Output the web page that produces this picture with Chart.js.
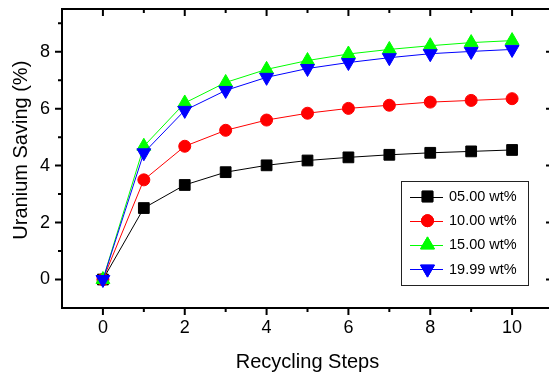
<!DOCTYPE html>
<html lang="en">
<head>
<meta charset="UTF-8">
<title>Uranium Saving</title>
<script src="https://cdn.jsdelivr.net/npm/chart.js"></script>
<style>
  body { margin: 0; background: #fff; overflow: hidden; }
  #wrap { width: 562px; height: 376px; }
</style>
</head>
<body>
<div id="wrap"><canvas id="myChart" width="562" height="376"></canvas></div>
<script>
var steps = [0, 1, 2, 3, 4, 5, 6, 7, 8, 9, 10];
var wt05 = [0, 2.51, 3.32, 3.77, 4.01, 4.18, 4.29, 4.38, 4.45, 4.50, 4.55];
var wt10 = [0, 3.50, 4.68, 5.24, 5.60, 5.84, 6.01, 6.12, 6.23, 6.29, 6.35];
var wt15 = [0, 4.68, 6.20, 6.92, 7.38, 7.69, 7.92, 8.08, 8.21, 8.32, 8.39];
var wt1999 = [0, 4.45, 5.94, 6.64, 7.10, 7.41, 7.62, 7.79, 7.93, 8.01, 8.08];
var seriesNames = ['05.00 wt%', '10.00 wt%', '15.00 wt%', '19.99 wt%'];
var xTickValues = [0, 2, 4, 6, 8, 10];
var yTickValues = [0, 2, 4, 6, 8];

var FONT = "'Liberation Sans', Arial, sans-serif";

function pts(arr) {
    return arr.map(function (v, i) { return { x: steps[i], y: v }; });
}

function makeSet(label, arr, color, style, radius, rotation, order) {
    return {
        label: label,
        data: pts(arr),
        borderColor: color,
        backgroundColor: color,
        borderWidth: 1,
        pointStyle: style,
        pointRadius: radius,
        pointHoverRadius: radius,
        pointRotation: rotation,
        pointBorderWidth: 1,
        pointBorderColor: color,
        pointBackgroundColor: color,
        showLine: true,
        tension: 0,
        order: order
    };
}

var datasets = [
    makeSet(seriesNames[0], wt05, '#000000', 'rect', 7.6, 0, 3),
    makeSet(seriesNames[1], wt10, '#ff0000', 'circle', 6, 0, 2),
    makeSet(seriesNames[2], wt15, '#00ff00', 'triangle', 8, 0, 1),
    makeSet(seriesNames[3], wt1999, '#0000ff', 'triangle', 8, 180, 0)
];

// frame, inner/outer ticks and the boxed legend
var framePlugin = {
    id: 'frame',
    afterDraw: function (chart) {
        var ctx = chart.ctx, a = chart.chartArea;
        var xs = chart.scales.x, ys = chart.scales.y;
        ctx.save();
        ctx.strokeStyle = '#000';
        ctx.lineWidth = 2;
        ctx.strokeRect(a.left, a.top, a.right - a.left, a.bottom - a.top);
        ctx.beginPath();
        for (var v = 0; v <= 10; v++) {
            var px = xs.getPixelForValue(v), len = v % 2 ? 4 : 7;
            ctx.moveTo(px, a.bottom); ctx.lineTo(px, a.bottom + len);
            ctx.moveTo(px, a.top); ctx.lineTo(px, a.top + len);
        }
        for (var w = 0; w <= 9; w++) {
            var py = ys.getPixelForValue(w), l2 = w % 2 ? 4 : 7;
            ctx.moveTo(a.left, py); ctx.lineTo(a.left - l2, py);
            ctx.moveTo(a.right, py); ctx.lineTo(a.right - l2, py);
        }
        ctx.stroke();

        // legend
        var bx = 401, by = 181, bw = 127, bh = 104;
        ctx.lineWidth = 1;
        ctx.strokeStyle = '#222';
        ctx.strokeRect(bx + 0.5, by + 0.5, bw, bh);
        ctx.font = '14.5px ' + FONT;
        ctx.textBaseline = 'middle';
        ctx.textAlign = 'left';
        chart.data.datasets.forEach(function (ds, i) {
            var y = by + 15.5 + i * 24.2;
            ctx.strokeStyle = ds.borderColor;
            ctx.lineWidth = 1;
            ctx.beginPath();
            ctx.moveTo(bx + 9, Math.round(y) + 0.5);
            ctx.lineTo(bx + 42, Math.round(y) + 0.5);
            ctx.stroke();
            Chart.helpers.drawPoint(ctx, {
                pointStyle: ds.pointStyle,
                rotation: ds.pointRotation,
                radius: ds.pointRadius,
                borderWidth: 1
            }, bx + 26.5, y);
            ctx.fillStyle = ds.borderColor;
            ctx.strokeStyle = ds.borderColor;
            ctx.fill();
            ctx.stroke();
            ctx.fillStyle = '#000';
            ctx.fillText(ds.label, bx + 48, y + 0.5);
        });
        ctx.restore();
    }
};

var ctx = document.getElementById('myChart').getContext('2d');

var myChart = new Chart(ctx, {
    type: 'scatter',
    data: { datasets: datasets },
    options: {
        responsive: false,
        animation: false,
        devicePixelRatio: 1,
        layout: { padding: { top: 8, right: 0, left: 0, bottom: 0 } },
        plugins: {
            legend: { display: false },
            tooltip: { enabled: false }
        },
        scales: {
            x: {
                type: 'linear',
                min: -1,
                max: 11,
                grid: { display: false, drawTicks: false },
                border: { display: false },
                afterBuildTicks: function (s) { s.ticks = xTickValues.map(function (v) { return { value: v }; }); },
                afterFit: function (s) { s.height = 68; s.paddingLeft = 0; s.paddingRight = 0; },
                ticks: { padding: 9, color: '#000', font: { family: FONT, size: 18 } },
                title: {
                    display: true,
                    text: 'Recycling Steps',
                    color: '#000',
                    padding: { top: 0, bottom: 2 },
                    font: { family: FONT, size: 20 }
                }
            },
            y: {
                type: 'linear',
                min: -1,
                max: 9.5,
                grid: { display: false, drawTicks: false },
                border: { display: false },
                afterBuildTicks: function (s) { s.ticks = yTickValues.map(function (v) { return { value: v }; }); },
                afterFit: function (s) { s.width = 62; s.paddingTop = 0; s.paddingBottom = 0; },
                ticks: { padding: 12, color: '#000', font: { family: FONT, size: 18 } },
                title: {
                    display: true,
                    text: '   Uranium Saving (%)',
                    color: '#000',
                    padding: { top: 9, bottom: 0 },
                    font: { family: FONT, size: 20 }
                }
            }
        }
    },
    plugins: [framePlugin]
});
</script>
</body>
</html>
